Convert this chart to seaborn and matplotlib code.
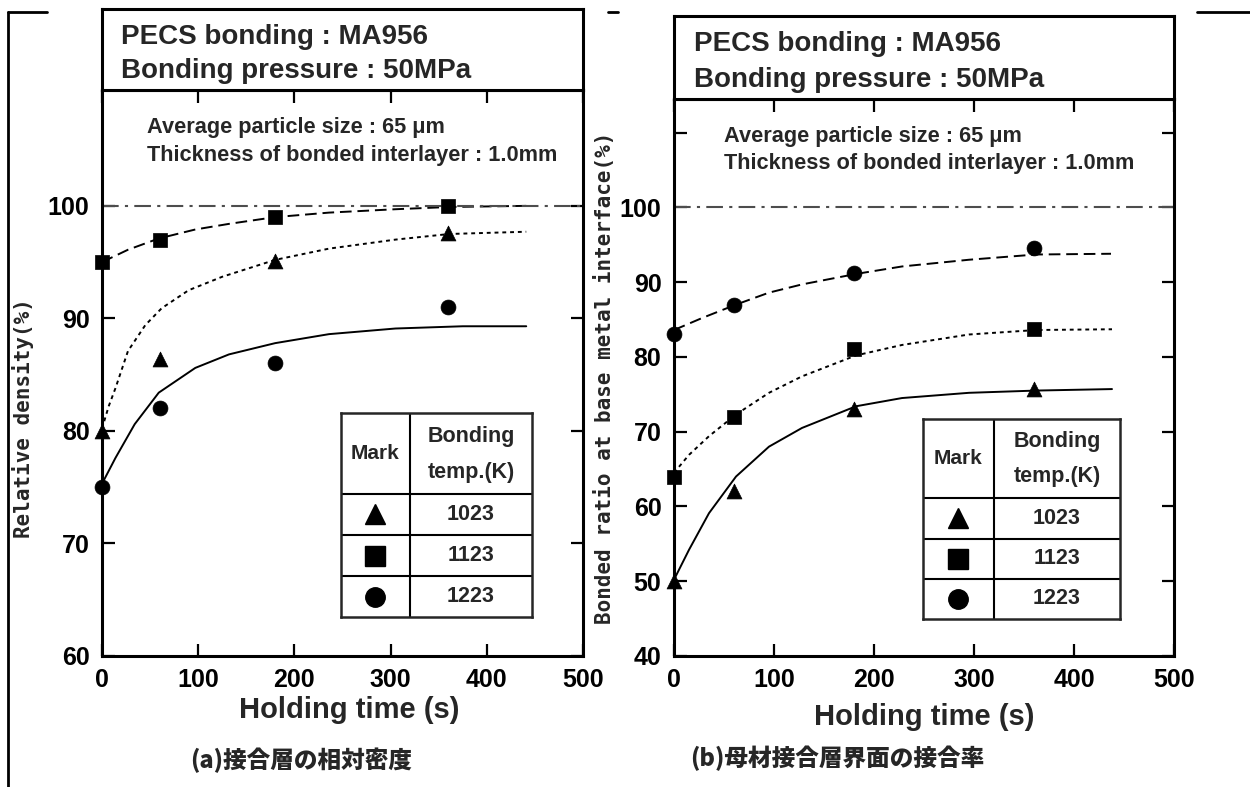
import matplotlib.pyplot as plt
import seaborn as sns
from matplotlib.lines import Line2D

## Data
temps = ["1023", "1123", "1223"]
marks = ["^", "s", "o"]

# (a) relative density of bonded layer
time_pts = [0, 60, 180, 360]
density_1023 = [80.0, 86.4, 95.1, 97.6]
density_1123 = [95.0, 97.0, 99.0, 100.0]
density_1223 = [75.0, 82.0, 86.0, 91.0]

fit_a_time = [0, 7, 14, 27, 45, 62, 90, 125, 180, 236, 305, 361, 441]
fit_a_1023 = [80.2, 82.2, 83.8, 87.1, 89.4, 90.9, 92.5, 93.7, 95.2, 96.2, 97.0, 97.5, 97.7]
fit_a_time_1123 = [0, 27, 59, 97, 132, 180, 236, 305, 361, 441]
fit_a_1123 = [95.0, 96.1, 97.1, 97.9, 98.4, 99.0, 99.4, 99.7, 99.9, 100.0]
fit_a_time_1223 = [0, 14, 34, 59, 97, 132, 180, 236, 305, 375, 441]
fit_a_1223 = [75.3, 77.6, 80.6, 83.4, 85.6, 86.8, 87.8, 88.6, 89.1, 89.3, 89.3]

# (b) bonded ratio at base metal interface
bond_1023 = [50.0, 62.0, 73.0, 75.7]
bond_1123 = [64.0, 72.0, 81.0, 83.8]
bond_1223 = [83.0, 87.0, 91.2, 94.6]

fit_b_time = [0, 15, 35, 62, 95, 128, 182, 228, 295, 362, 438]
fit_b_1023 = [50.2, 54.2, 59.1, 64.0, 68.0, 70.5, 73.4, 74.5, 75.2, 75.5, 75.7]
fit_b_1123 = [64.5, 66.9, 69.4, 72.3, 75.2, 77.4, 80.2, 81.6, 83.0, 83.6, 83.7]
fit_b_time_1223 = [0, 28, 62, 95, 128, 182, 228, 295, 362, 437]
fit_b_1223 = [83.6, 85.2, 87.0, 88.6, 89.7, 91.1, 92.1, 93.0, 93.7, 93.8]

x_ticks = [0, 100, 200, 300, 400, 500]

## Style
sns.set_style("ticks")
plt.rcParams['font.family'] = ['Liberation Sans', 'DejaVu Sans']
plt.rcParams['font.weight'] = 'bold'

DASHED = (0, (6, 3))
DOTTED = (0, (2, 2))
DASHDOT = (0, (8, 3, 1.5, 3))
SPINE_W = 2.2

fig = plt.figure(figsize=(12.5, 7.87), dpi=100)


def style_axes(ax, ylim, yticks, ylabels):
    ax.set_xlim(0, 500)
    ax.set_ylim(*ylim)
    ax.set_xticks(x_ticks)
    ax.set_yticks(yticks)
    ax.set_yticklabels(ylabels)
    ax.tick_params(direction="in", length=9, width=1.6, top=True, right=True,
                   labelsize=18, pad=9, colors="k")
    for lab in ax.get_xticklabels() + ax.get_yticklabels():
        lab.set_fontweight("bold")
    for s in ax.spines.values():
        s.set_linewidth(SPINE_W)
        s.set_color("k")


def title_box(rect):
    tb = fig.add_axes(rect)
    tb.set_xticks([])
    tb.set_yticks([])
    for s in tb.spines.values():
        s.set_linewidth(SPINE_W)
        s.set_color("k")
    tb.text(0.04, 0.66, "PECS bonding : MA956", fontsize=20, fontweight="bold",
            va="center", transform=tb.transAxes)
    tb.text(0.04, 0.23, "Bonding pressure : 50MPa", fontsize=20, fontweight="bold",
            va="center", transform=tb.transAxes)


def mark_table(rect):
    tx = fig.add_axes(rect)
    tx.set_xlim(0, 1)
    tx.set_ylim(0, 1)
    tx.set_xticks([])
    tx.set_yticks([])
    for s in tx.spines.values():
        s.set_linewidth(1.8)
    tx.axvline(0.36, color="k", lw=1.5)
    for yy in (0.605, 0.402, 0.2):
        tx.axhline(yy, color="k", lw=1.5)
    tx.text(0.18, 0.80, "Mark", ha="center", va="center", fontsize=15)
    tx.text(0.68, 0.885, "Bonding", ha="center", va="center", fontsize=15.5)
    tx.text(0.68, 0.71, "temp.(K)", ha="center", va="center", fontsize=15.5)
    rows = [0.503, 0.301, 0.1]
    for m, t, yy in zip(marks, temps, rows):
        tx.plot(0.18, yy, marker=m, color="k", markersize=14, linestyle="none")
        tx.text(0.68, yy, t, ha="center", va="center", fontsize=15.5)


def panel(ax, pts, fits, styles):
    for (fx, fy), ls in zip(fits, styles):
        sns.lineplot(x=fx, y=fy, ax=ax, color="k", lw=1.4, linestyle=ls,
                     estimator=None, sort=False)
    for yv, m in zip(pts, marks):
        sns.scatterplot(x=time_pts, y=yv, ax=ax, marker=m, s=115, color="k",
                        edgecolor="k", linewidth=0.5, legend=False,
                        clip_on=False, zorder=5)
    ax.axhline(100, color="0.3", lw=1.5, linestyle=DASHDOT)


## (a) Relative density
ax1 = fig.add_axes([0.0816, 0.1665, 0.3848, 0.7192])
panel(ax1, [density_1023, density_1123, density_1223],
      [(fit_a_time, fit_a_1023), (fit_a_time_1123, fit_a_1123),
       (fit_a_time_1223, fit_a_1223)],
      [DOTTED, DASHED, "-"])
style_axes(ax1, (60, 110.3), [60, 70, 80, 90, 100], ["60", "70", "80", "90", "100"])
ax1.text(0.094, 0.933, "Average particle size : 65 μm", fontsize=15.7,
         va="center", transform=ax1.transAxes)
ax1.text(0.094, 0.885, "Thickness of bonded interlayer : 1.0mm", fontsize=15.7,
         va="center", transform=ax1.transAxes)
ax1.set_xlabel("Holding time (s)", fontsize=21, fontweight="bold")
ax1.xaxis.set_label_coords(0.513, -0.095)
ax1.xaxis.label.set_va("center")
ax1.set_ylabel("Relative density(%)", fontsize=15, fontweight="bold",
               family=["DejaVu Sans Mono"])
ax1.yaxis.set_label_coords(-0.164, 0.42)
ax1.yaxis.label.set_va("center")
title_box([0.0816, 0.8856, 0.3848, 0.103])
mark_table([0.2728, 0.216, 0.1528, 0.2592])

## (b) Bonded ratio
ax2 = fig.add_axes([0.5392, 0.1665, 0.4, 0.7077])
panel(ax2, [bond_1023, bond_1123, bond_1223],
      [(fit_b_time, fit_b_1023), (fit_b_time, fit_b_1123),
       (fit_b_time_1223, fit_b_1223)],
      ["-", DOTTED, DASHED])
style_axes(ax2, (40, 114.5), [40, 50, 60, 70, 80, 90, 100, 110],
           ["40", "50", "60", "70", "80", "90", "100", ""])
ax2.text(0.1, 0.932, "Average particle size : 65 μm", fontsize=15.7,
         va="center", transform=ax2.transAxes)
ax2.text(0.1, 0.885, "Thickness of bonded interlayer : 1.0mm", fontsize=15.7,
         va="center", transform=ax2.transAxes)
ax2.set_xlabel("Holding time (s)", fontsize=21, fontweight="bold")
ax2.xaxis.set_label_coords(0.5, -0.11)
ax2.xaxis.label.set_va("center")
ax2.set_ylabel("Bonded ratio at base metal interface(%)", fontsize=15,
               fontweight="bold", family=["DejaVu Sans Mono"])
ax2.yaxis.set_label_coords(-0.138, 0.5)
ax2.yaxis.label.set_va("center")
title_box([0.5392, 0.8742, 0.4, 0.1055])
mark_table([0.7384, 0.2135, 0.1576, 0.2541])

## Captions
cjk = ["Noto Sans CJK JP", "DejaVu Sans"]
fig.text(301 / 1250, 1 - 760 / 787, "(a)接合層の相対密度", ha="center", va="center",
         fontsize=17, fontweight="heavy", family=cjk)
fig.text(837 / 1250, 1 - 758 / 787, "(b)母材接合層界面の接合率", ha="center", va="center",
         fontsize=17, fontweight="heavy", family=cjk)

## Page border fragments
yb = 1 - 12 / 787
for xs, ys in [((0.0064, 0.0064), (yb, 0.0)), ((0.0064, 0.0376), (yb, yb)),
               ((0.4864, 0.4944), (yb, yb)), ((0.9576, 1.0), (yb, yb))]:
    fig.add_artist(Line2D(xs, ys, transform=fig.transFigure, color="k", lw=2))

plt.savefig("out.png", dpi=100)
